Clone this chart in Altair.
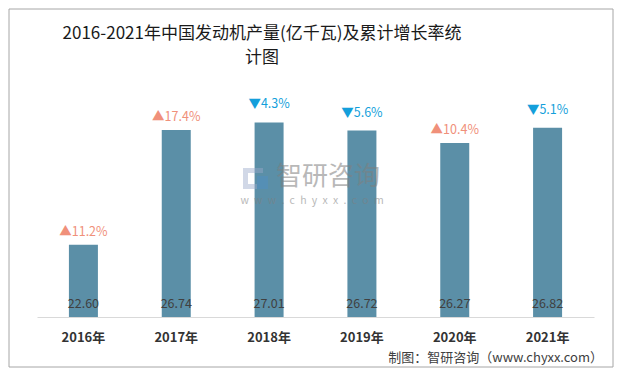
import altair as alt
import pandas as pd

years = ["2016年", "2017年", "2018年", "2019年", "2020年", "2021年"]
output = [22.60, 26.74, 27.01, 26.72, 26.27, 26.82]
growth = [11.2, 17.4, -4.3, -5.6, 10.4, -5.1]

title_lines = ["2016-2021年中国发动机产量(亿千瓦)及累计增长率统", "计图"]
source_text = "制图：智研咨询（www.chyxx.com）"
wm_name = "智研咨询"
wm_url = "\u2002".join("www.chyxx.com")

df = pd.DataFrame({
    "year": years,
    "output": output,
    "growth": growth,
})
df["value_label"] = [f"{v:.2f}" for v in output]
df["growth_label"] = [("▲" if g >= 0 else "▼") + f"{abs(g):.1f}%" for g in growth]
df["dir"] = ["up" if g >= 0 else "down" for g in growth]

W, H = 557, 222
FONT = "Noto Sans CJK SC"

x_enc = alt.X("year:N", sort=years,
              scale=alt.Scale(paddingInner=0, paddingOuter=0),
              axis=alt.Axis(title=None, labelAngle=0, ticks=False,
                            domainColor="#d9d9d9", domainWidth=1,
                            labelFontWeight="bold", labelFontSize=13,
                            labelColor="#333333", labelPadding=14,
                            labelFont=FONT))
y_scale = alt.Scale(domain=[20, 28], nice=False, zero=False)

base = alt.Chart(df)

bars = base.mark_bar(size=29, color="#5b8fa7").encode(
    x=x_enc,
    y=alt.Y("output:Q", scale=y_scale, axis=None),
    y2=alt.datum(20),
)

value_text = base.mark_text(font=FONT, fontSize=12.5, color="#404040",
                            baseline="middle", dy=-13).encode(
    x=alt.X("year:N", sort=years),
    y=alt.datum(20),
    text="value_label:N",
)

up_text = base.transform_filter(alt.datum.dir == "up").mark_text(
    font=FONT, fontSize=12.5, color="#f0907a", baseline="bottom", dy=-6).encode(
    x=alt.X("year:N", sort=years),
    y=alt.Y("output:Q"),
    text="growth_label:N",
)

down_text = base.transform_filter(alt.datum.dir == "down").mark_text(
    font=FONT, fontSize=12.5, color="#149fdb", baseline="bottom", dy=-11).encode(
    x=alt.X("year:N", sort=years),
    y=alt.Y("output:Q"),
    text="growth_label:N",
)

title1 = alt.Chart(pd.DataFrame({"t": [title_lines[0]]})).mark_text(
    font=FONT, fontSize=17, color="#1a1a1a", align="center", baseline="middle").encode(
    x=alt.value(225), y=alt.value(-61), text="t:N")
title2 = alt.Chart(pd.DataFrame({"t": [title_lines[1]]})).mark_text(
    font=FONT, fontSize=17, color="#1a1a1a", align="center", baseline="middle").encode(
    x=alt.value(225), y=alt.value(-37), text="t:N")

# watermark logo (decorative blocks)
logo_a = alt.Chart(pd.DataFrame({"a": [0]})).mark_rect(
    color="#9aa9c9", opacity=0.45).encode(
    x=alt.value(206), x2=alt.value(226), y=alt.value(73), y2=alt.value(78))
logo_b = alt.Chart(pd.DataFrame({"a": [0]})).mark_rect(
    color="#9aa9c9", opacity=0.45).encode(
    x=alt.value(206), x2=alt.value(211), y=alt.value(78), y2=alt.value(94))
logo_c = alt.Chart(pd.DataFrame({"a": [0]})).mark_rect(
    color="#9aa9c9", opacity=0.45).encode(
    x=alt.value(211), x2=alt.value(220), y=alt.value(89), y2=alt.value(94))
logo_d = alt.Chart(pd.DataFrame({"a": [0]})).mark_rect(
    color="#4a90d0", opacity=0.35).encode(
    x=alt.value(220), x2=alt.value(231), y=alt.value(81), y2=alt.value(94))

wm1 = alt.Chart(pd.DataFrame({"t": [wm_name]})).mark_text(
    font=FONT, fontSize=26, color="#7f7f7f", opacity=0.55,
    align="center", baseline="middle").encode(
    x=alt.value(291), y=alt.value(82), text="t:N")

wm2 = alt.Chart(pd.DataFrame({"t": [wm_url]})).mark_text(
    font=FONT, fontSize=10.5, color="#7f7f7f", opacity=0.55,
    align="center", baseline="middle").encode(
    x=alt.value(275), y=alt.value(106), text="t:N")

src = alt.Chart(pd.DataFrame({"t": [source_text]})).mark_text(
    font=FONT, fontSize=13, color="#404040",
    align="right", baseline="middle").encode(
    x=alt.value(566), y=alt.value(263), text="t:N")

border = alt.Chart(pd.DataFrame({"a": [0]})).mark_rect(
    fillOpacity=0, stroke="#a6a6a6", strokeWidth=1).encode(
    x=alt.value(-28), x2=alt.value(576), y=alt.value(-86), y2=alt.value(272))

chart = alt.layer(border, bars, value_text, up_text, down_text,
                  logo_a, logo_b, logo_c, logo_d, wm1, wm2, src,
                  title1, title2).properties(
    width=W, height=H, padding=0, background="white",
).configure_view(stroke="transparent", strokeWidth=0)

chart.save("out.html", embed_options={"renderer": "svg", "actions": False})
